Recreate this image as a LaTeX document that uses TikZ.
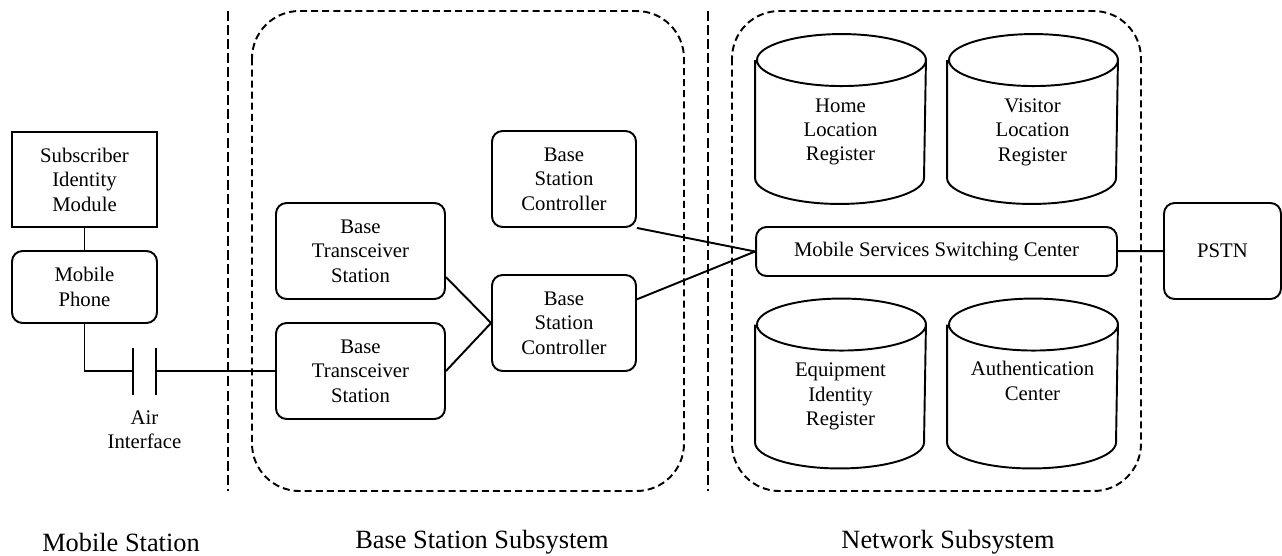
\documentclass[tikz,border=0pt]{standalone}
\usepackage{fontspec}
\setmainfont{Liberation Serif}
\usetikzlibrary{positioning}

\begin{document}
\begin{tikzpicture}[x=0.02cm,y=-0.02cm,line width=1.1pt,
    font=\fontsize{11.8}{13.9}\selectfont,
    box/.style={rectangle,draw,rounded corners=6pt,align=center,inner sep=0pt},
    db/.style={rectangle,align=center,inner sep=0pt,minimum width=3.38cm,minimum height=2.84cm},
    sep/.style={dash pattern=on 5.7pt off 2.3pt},
    area/.style={dash pattern=on 4pt off 2.3pt,rounded corners=27pt},
    caption/.style={font=\fontsize{15}{18}\selectfont}]

    \useasboundingbox (0,0) rectangle (1282,555);

    % mobile station
    \node[box,sharp corners,minimum width=2.9cm,minimum height=1.9cm] (sim) at (84.5,179.5) {Subscriber\\Identity\\Module};
    \node[box,minimum width=2.9cm,minimum height=1.44cm] (mp) at (84.5,287) {Mobile\\Phone};
    \coordinate (capl) at (133,371);
    \coordinate (capr) at (156,371);
    \node[align=center,inner sep=0pt] (air) at (144.5,430) {Air\\Interface};

    % base station subsystem
    \node[box,minimum width=3.38cm,minimum height=1.92cm] (bts1) at (360.5,251) {Base\\Transceiver\\Station};
    \node[box,minimum width=3.38cm,minimum height=1.92cm] (bts2) at (360.5,371) {Base\\Transceiver\\Station};
    \node[box,minimum width=2.88cm,minimum height=1.92cm] (bsc1) at (564,179) {Base\\Station\\Controller};
    \node[box,minimum width=2.88cm,minimum height=1.92cm] (bsc2) at (564,323) {Base\\Station\\Controller};

    % network subsystem
    \node[db] (hlr) at (840.5,132) {Home\\Location\\Register};
    \node[db] (vlr) at (1032.5,132) {Visitor\\Location\\Register};
    \node[db] (eir) at (840.5,396.5) {Equipment\\Identity\\Register};
    \node[db] (auc) at (1032.5,396.5) {Authentication\\Center\\\strut};
    \node[box,minimum width=7.22cm,minimum height=0.98cm] (msc) at (936.5,251.5) {Mobile Services Switching Center};
    \node[box,minimum width=2.34cm,minimum height=1.92cm] (pstn) at (1222.5,251) {PSTN};

    \foreach \n in {hlr,vlr,eir,auc}
        \draw (\n.north west) -- ([yshift=0.52cm]\n.south west)
            arc[start angle=180,end angle=360,x radius=1.69cm,y radius=0.52cm]
            -- (\n.north east)
            arc[start angle=0,end angle=360,x radius=1.69cm,y radius=0.52cm];

    % links
    \path (sim) edge (mp)
    (capr) edge (bts2)
    (bts1.-17) edge (bsc2.west)
    (bts2.east) edge (bsc2.west)
    (bsc1.south east) edge (msc.west)
    (bsc2.18) edge (msc.west)
    (msc) edge (pstn);
    \draw (mp) |- (capl);
    \draw ([yshift=0.47cm]capl) -- ([yshift=-0.47cm]capl);
    \draw ([yshift=0.47cm]capr) -- ([yshift=-0.47cm]capr);

    % subsystems
    \draw[sep] (228,11) -- (228,491);
    \draw[sep] (708,11) -- (708,491);
    \draw[area] (252,11) rectangle (684,491);
    \draw[area] (732,11) rectangle (1141,491);

    \node[caption] (ms) at (121,542) {Mobile Station};
    \node[caption] (bss) at (482,542) {Base Station Subsystem};
    \node[caption] (nss) at (948,542) {Network Subsystem};

\end{tikzpicture}
\end{document}
